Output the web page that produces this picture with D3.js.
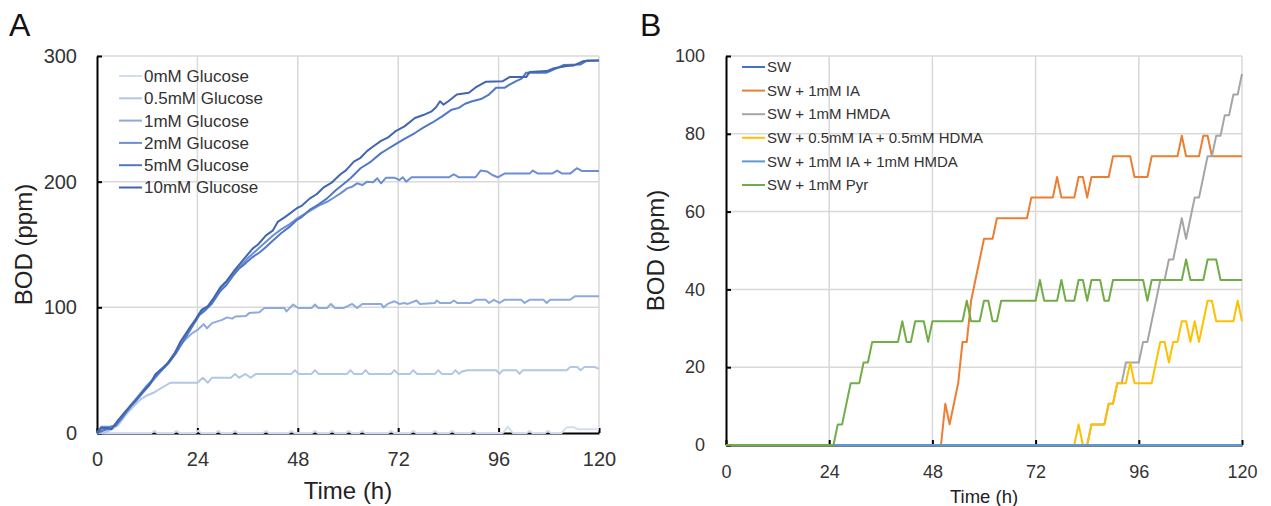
<!DOCTYPE html>
<html>
<head>
<meta charset="utf-8">
<script src="https://cdn.jsdelivr.net/npm/d3@7"></script>
<style>
  body { margin: 0; background: #fff; }
  svg { display: block; font-family: "Liberation Sans", Arial, sans-serif; }
</style>
</head>
<body>
<div id="chart"></div>
<script>
"use strict";
// hours on x for both panels
const timeTicks = [0, 24, 48, 72, 96, 120];
const bodTicksA = [0, 100, 200, 300];
const bodTicksB = [0, 20, 40, 60, 80, 100];

// panel A: glucose series, [hour, BOD ppm]
const glucoseNames = ["0mM Glucose", "0.5mM Glucose", "1mM Glucose", "2mM Glucose", "5mM Glucose", "10mM Glucose"];
const glucoseColors = ["#d3ddf1", "#b3c6e8", "#8eaadc", "#6c8fd3", "#5078c6", "#4166ae"];
const glu0 = [[0,0],[13,0],[13.7,1.8],[14.4,0],[18.3,0],[19,1.8],[19.7,0],[23.5,0],[24.2,1.8],[24.9,0],[28.3,0],[29,1.8],[29.7,0],
  [32.3,0],[33,1.8],[33.7,0],[39.7,0],[40.4,1.8],[41.1,0],[45.8,0],[46.5,1.8],[47.2,0],[51.4,0],[52.1,1.8],[52.8,0],[55.5,0],[56.2,1.8],
  [56.9,0],[59.5,0],[60.2,1.8],[60.9,0],[62.7,0],[63.4,1.8],[64.1,0],[69.6,0],[70.3,1.8],[71,0],[74.9,0],[75.6,1.8],[76.3,0],[80.1,0],
  [80.8,1.8],[81.5,0],[84.2,0],[84.9,1.8],[85.6,0],[89.3,0],[90,1.8],[90.7,0],[97,0],[98.2,5],[99.4,0],[102.7,0],[103.4,1.8],[104.1,0],
  [107.1,0],[107.8,1.8],[108.5,0],[111,0],[112.3,4.5],[114,4.5],[115,3],[120,3]];
const glu05 = [[0,0],[1.5,0],[3,2],[5,6],[7,15],[9,22],[10.5,27],[12,30],[13.5,32],[15,35],[16,37],[17.5,40],[24,40],[25.3,44],
  [26.5,40],[27.5,44],[32,44],[33,47],[34,44],[35.5,47],[36.7,44],[38,47],[46.5,47],[47.3,50],[48.2,47],[51.3,47],[52.1,50],[53,47],
  [59.8,47],[60.6,50],[61.4,47],[63.4,47],[64.2,50],[65,47],[70.3,47],[71.1,50],[72,47],[74.8,47],[75.6,50],[76.5,47],[80.8,47],
  [81.6,50],[82.4,47],[84.9,47],[85.7,50],[86.5,47],[87.3,49],[88.5,50],[95.4,50],[96.2,47],[97,50],[100.2,50],[101,47],[101.8,50],
  [112.3,50],[113.1,52.5],[114.8,52.5],[115.6,50],[116.5,52.5],[119,52.5],[120,51]];
const glu1 = [[0,0],[1,3],[3,3],[5,9],[7,17],[9,24],[11,32],[13,40],[15,48],[17,56],[19.4,68],[21,74],[22.6,79],[24.2,82.5],
  [25.5,86.6],[26.3,83.3],[27.5,87.4],[29.9,90],[31.1,92],[32.3,91],[33.1,92.7],[35.6,93.2],[36.4,95.4],[38.8,96],[40,99.5],
  [44.8,99.5],[45.3,96.8],[46.9,102.2],[48.1,99.5],[51.3,99.5],[52.1,102.2],[52.9,99.5],[55,99.5],[55.9,102.7],[56.9,99.5],[59,99.5],
  [61,102.7],[62.2,99.5],[63.4,102.7],[67.9,102.7],[68.5,100],[69.5,102.7],[71.1,104.8],[72.3,102.7],[73.5,103.5],[74.3,102.7],
  [76.4,105.4],[77.2,102.7],[80.8,103.5],[81.2,105.4],[82,103.5],[84.5,103.5],[85.3,105.4],[86.1,103.5],[89.3,103.5],[90.5,106],
  [92.9,106],[93.7,103.5],[94.9,106],[96.2,103.5],[97.4,106],[101.4,106],[102.2,103.5],[103.4,106],[106.7,106],[107.5,103.5],
  [108.3,106],[113.1,106],[114.3,108.9],[120,108.9]];
const glu2 = [[0,0],[1,5],[3,5],[4.5,6],[6,13],[8,22],[10,30],[12,38],[13.5,43],[15,50],[16.5,54],[18,60],[19.5,68],[21.5,80],
  [23,87],[24.5,95],[26,99],[27,102],[28.5,110],[30,117],[32,124],[34,132],[36,139],[38,145],[40,151],[42,157],[44,162],[46,166],
  [48,171],[51,177],[53,181],[55,184],[56.5,187],[58.2,190.7],[59.8,194.7],[61,196],[62.2,198.7],[63.4,197.3],[64.6,200],[66,199.5],
  [67,202.7],[67.9,198.7],[69.1,203.2],[71.1,203.2],[72.3,201.3],[73.1,203.5],[73.9,200],[75.2,203.5],[84.1,203.5],[85.3,205.9],
  [86.5,203.5],[90.5,203.5],[91.7,208.8],[93.3,208],[94.5,205.3],[95.8,203.5],[97.4,206.4],[103.4,206.4],[104.2,208.8],[105.4,206.4],
  [108.8,206.4],[110,208.8],[111.2,206.4],[113.1,206.4],[114.7,210.7],[115.9,208.5],[120,208.5]];
const glu5 = [[0,0],[1.5,2],[3,4],[4.5,6],[6,12],[8,21],[10,29],[12,37],[14,45],[15.5,50],[17,55],[19,64],[21,75],[23,86],
  [24.5,94],[26,98],[27.5,103],[29.5,113],[31,118],[32.5,125],[34,131],[35.5,135],[37.2,140],[39,144],[40.4,148],[42,153],[44,159],
  [46,164],[47.7,169.3],[49,172],[51,178],[53,182],[55,186.7],[57,193],[58.5,197],[60.6,202.7],[63,210.7],[65.5,216],[67.9,222.7],
  [69,225],[71.1,229.3],[73.5,234],[76,238.7],[78,243],[80,246.7],[82.5,252],[84.8,257.3],[86.5,258.7],[88,262],[89.7,264],[92,266],
  [93.7,269.3],[95.4,274.7],[97.4,274.7],[98.5,277],[100.2,280],[101.5,282],[102.6,286.7],[107.5,286.7],[109,289],[111.5,292.8],
  [115.6,293.3],[117.2,296.5],[120,296.5]];
const glu10 = [[0,0],[1,4],[2.5,4],[3.5,3],[5,10],[7,18],[9,25],[11,33],[12.5,38],[14,47],[15.5,51],[17,56],[18.5,63],[20,73],
  [22,83],[23.5,90],[25,98],[26.5,101],[28,108],[29.5,116],[31,121],[33,130],[35,138],[37.2,146.7],[38.5,150],[40.4,157.3],[42,161],
  [43.2,168],[45,172],[47.7,178.7],[49,181],[50.9,186.7],[52.5,190],[54.1,195.2],[56,199],[58.2,205.9],[59.5,209],[61.4,216],[63,219],
  [64.6,224.5],[66,228],[67.9,232.5],[69.5,235],[71.5,240.5],[73.5,244],[76,250.7],[78,253],[80,256],[81,259],[82,264],[82.8,261.3],
  [84,264],[86,269.3],[88.9,270.7],[90.5,275],[92.9,279.5],[97,280],[98.6,283.2],[102.6,283.2],[103.4,287.2],[107.5,288],[109,290],
  [112.3,292],[114,292.5],[116.4,296],[120,296.5]];

// panel B: seawater series, [hour, BOD ppm]
const swNames = ["SW", "SW + 1mM IA", "SW + 1mM HMDA", "SW + 0.5mM IA + 0.5mM HDMA", "SW + 1mM IA + 1mM HMDA", "SW + 1mM Pyr"];
const swColors = ["#4472c4", "#ed7d31", "#a5a5a5", "#ffc000", "#5b9bd5", "#70ad47"];
const sw = [[0,0],[120,0]];
const swIA = [[0,0],[50,0],[51,10.6],[52,5.3],[53,10.6],[54,15.9],[55,26.5],[56,26.5],[57,37.1],[58,42.4],[59,47.7],[60,53],
  [62,53],[63,58.3],[70,58.3],[71,63.6],[76,63.6],[77,68.9],[78,63.6],[81,63.6],[82,68.9],[83,68.9],[84,63.6],[85,68.9],[89,68.9],
  [90,74.2],[94,74.2],[95,68.9],[98,68.9],[99,74.2],[105,74.2],[106,79.5],[107,74.2],[110,74.2],[111,79.5],[112,79.5],[113,74.2],[120,74.2]];
const swHMDA = [[0,0],[84,0],[85,5.3],[88,5.3],[89,10.6],[90,10.6],[91,15.9],[92,15.9],[93,21.2],[96,21.2],[97,26.5],[98,26.5],
  [99,31.8],[100,37.1],[101,42.4],[102,42.4],[103,47.7],[104,47.7],[105,53],[106,58.3],[107,53],[108,58.3],[109,63.6],[110,63.6],
  [111,68.9],[112,74.2],[113,74.2],[114,79.5],[115,79.5],[116,84.8],[117,84.8],[118,90.1],[119,90.1],[120,95.4]];
const swHalf = [[0,0],[81,0],[82,5.3],[83,0],[84,0],[85,5.3],[88,5.3],[89,10.6],[90,10.6],[91,15.9],[93,15.9],[94,21.2],[95,15.9],
  [99,15.9],[100,21.2],[101,26.5],[102,26.5],[103,21.2],[104,26.5],[105,26.5],[106,31.8],[107,31.8],[108,26.5],[109,31.8],[110,26.5],
  [111,31.8],[112,37.1],[113,37.1],[114,31.8],[118,31.8],[119,37.1],[120,31.8]];
const swBoth = [[0,0],[120,0]];
const swPyr = [[0,0],[25,0],[26,5.3],[27,5.3],[29,15.9],[31,15.9],[32,21.2],[33,21.2],[34,26.5],[40,26.5],[41,31.8],[42,26.5],
  [43,26.5],[44,31.8],[46,31.8],[47,26.5],[48,31.8],[55,31.8],[56,37.1],[57,31.8],[59,31.8],[60,37.1],[61,37.1],[62,31.8],[63,31.8],
  [64,37.1],[72,37.1],[73,42.4],[74,37.1],[77,37.1],[78,42.4],[79,37.1],[81,37.1],[82,42.4],[83,42.4],[84,37.1],[85,42.4],[87,42.4],
  [88,37.1],[89,37.1],[90,42.4],[97,42.4],[98,37.1],[99,42.4],[106,42.4],[107,47.7],[108,42.4],[111,42.4],[112,47.7],[114,47.7],
  [115,42.4],[120,42.4]];

const W = 1271, H = 506;
const svg = d3.select("#chart").append("svg").attr("width", W).attr("height", H);

function drawPanel(opt) {
  const x = d3.scaleLinear().domain([0, 120]).range([opt.x0, opt.x1]);
  const y = d3.scaleLinear().domain([0, opt.ymax]).range([opt.y0, opt.y1]);
  const g = svg.append("g");

  // grid
  g.append("g").selectAll("line").data(timeTicks.slice(1)).enter().append("line")
    .attr("x1", d => x(d)).attr("x2", d => x(d)).attr("y1", opt.y0).attr("y2", opt.y1)
    .attr("stroke", "#d9d9d9").attr("stroke-width", 1.5);
  g.append("g").selectAll("line").data(opt.yTicks.slice(1)).enter().append("line")
    .attr("x1", opt.x0).attr("x2", opt.x1).attr("y1", d => y(d)).attr("y2", d => y(d))
    .attr("stroke", "#d9d9d9").attr("stroke-width", 1.5);

  // axes, ticks pointing inward
  const ax = g.append("g").attr("transform", `translate(0,${opt.y0})`)
    .call(d3.axisBottom(x).tickValues(timeTicks).tickSizeInner(-5).tickSizeOuter(0).tickPadding(opt.xPad));
  const ay = g.append("g").attr("transform", `translate(${opt.x0},0)`)
    .call(d3.axisLeft(y).tickValues(opt.yTicks).tickSizeInner(-5).tickSizeOuter(0).tickPadding(opt.yPad));
  [ax, ay].forEach(a => {
    a.select(".domain").attr("stroke", "#000").attr("stroke-width", 2);
    a.selectAll(".tick line").attr("stroke", "#000").attr("stroke-width", 2);
    a.selectAll("text").attr("font-size", opt.tickFont).attr("fill", "#333")
      .style("font-family", "'Liberation Sans', Arial, sans-serif");
  });

  // series
  const line = d3.line().x(d => x(d[0])).y(d => y(d[1]));
  opt.series.forEach((s, i) => {
    g.append("path").datum(s).attr("d", line).attr("fill", "none")
      .attr("stroke", opt.colors[i]).attr("stroke-width", 2).attr("stroke-linejoin", "round");
  });

  // legend
  const lg = g.append("g");
  opt.names.forEach((n, i) => {
    const ly = opt.legY + i * opt.legStep;
    lg.append("line").attr("x1", opt.legX).attr("x2", opt.legX + 23).attr("y1", ly).attr("y2", ly)
      .attr("stroke", opt.colors[i]).attr("stroke-width", 2);
    lg.append("text").attr("x", opt.legX + 25).attr("y", ly).attr("dy", "0.35em")
      .attr("font-size", opt.legFont).attr("fill", "#333").text(n);
  });

  // titles
  g.append("text").attr("x", (opt.x0 + opt.x1) / 2).attr("y", opt.xTitleY).attr("text-anchor", "middle")
    .attr("font-size", opt.xTitleFont).attr("fill", "#222").text("Time (h)");
  g.append("text").attr("transform", `translate(${opt.yTitleX},${(opt.y0 + opt.y1) / 2}) rotate(-90)`)
    .attr("text-anchor", "middle").attr("font-size", 24).attr("fill", "#222").text("BOD (ppm)");
  g.append("text").attr("x", opt.letterX).attr("y", 36).attr("font-size", 32).attr("fill", "#111").text(opt.letter);
}

drawPanel({
  letter: "A", letterX: 9, x0: 97, x1: 599, y0: 433, y1: 56, ymax: 300, yTicks: bodTicksA,
  xPad: 19, yPad: 20, tickFont: 20, xTitleY: 499, xTitleFont: 24, yTitleX: 32,
  series: [glu0, glu05, glu1, glu2, glu5, glu10], names: glucoseNames, colors: glucoseColors,
  legX: 119, legY: 76, legStep: 22.3, legFont: 17
});
drawPanel({
  letter: "B", letterX: 640, x0: 726, x1: 1242, y0: 445, y1: 56, ymax: 100, yTicks: bodTicksB,
  xPad: 20, yPad: 21, tickFont: 18, xTitleY: 503, xTitleFont: 18.5, yTitleX: 664,
  series: [sw, swIA, swHMDA, swHalf, swBoth, swPyr], names: swNames, colors: swColors,
  legX: 742, legY: 67, legStep: 23.6, legFont: 15
});
</script>
</body>
</html>
